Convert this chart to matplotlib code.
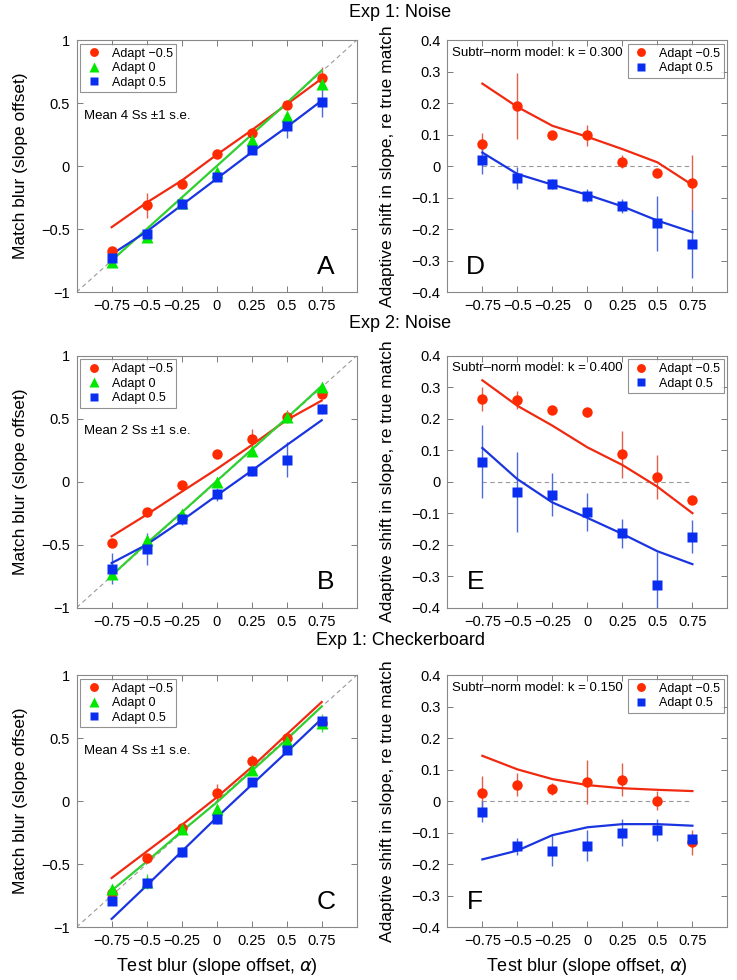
import numpy as np
import matplotlib
matplotlib.use("Agg")
import matplotlib.pyplot as plt

plt.rcParams['font.family'] = ['Liberation Sans', 'DejaVu Sans']
plt.rcParams['axes.unicode_minus'] = True

# test blur levels
x = [-0.75, -0.5, -0.25, 0, 0.25, 0.5, 0.75]
xtick_labels = ['\u22120.75', '\u22120.5', '\u22120.25', '0', '0.25', '0.5', '0.75']

# ---- Exp 1: Noise (A / D) ----
A_red = [-0.675, -0.31, -0.143, 0.10, 0.265, 0.485, 0.70]
A_red_err = [0.02, 0.10, 0.02, 0.02, 0.03, 0.02, 0.09]
A_red_fit = [-0.485, -0.29, -0.115, 0.09, 0.285, 0.49, 0.695]
A_green = [-0.76, -0.56, -0.29, -0.05, 0.21, 0.40, 0.655]
A_green_err = [0.03, 0.03, 0.02, 0.02, 0.02, 0.03, 0.05]
A_green_fit = [-0.75, -0.5, -0.25, 0.0, 0.25, 0.5, 0.76]
A_blue = [-0.73, -0.54, -0.30, -0.09, 0.13, 0.32, 0.51]
A_blue_err = [0.02, 0.02, 0.02, 0.02, 0.02, 0.10, 0.12]
A_blue_fit = [-0.70, -0.52, -0.31, -0.10, 0.11, 0.31, 0.52]

D_red = [0.07, 0.19, 0.10, 0.098, 0.014, -0.023, -0.054]
D_red_err = [0.035, 0.105, 0.01, 0.033, 0.02, 0.01, 0.09]
D_red_fit = [0.262, 0.188, 0.128, 0.093, 0.054, 0.012, -0.06]
D_blue = [0.02, -0.038, -0.057, -0.094, -0.126, -0.182, -0.247]
D_blue_err = [0.045, 0.035, 0.015, 0.02, 0.022, 0.088, 0.108]
D_blue_fit = [0.043, -0.025, -0.059, -0.091, -0.128, -0.173, -0.21]

# ---- Exp 2: Noise (B / E) ----
B_red = [-0.49, -0.244, -0.024, 0.22, 0.34, 0.517, 0.697]
B_red_err = [0.02, 0.02, 0.02, 0.02, 0.08, 0.05, 0.02]
B_red_fit = [-0.434, -0.262, -0.08, 0.10, 0.29, 0.49, 0.644]
B_green = [-0.73, -0.46, -0.257, 0.0, 0.24, 0.51, 0.75]
B_green_err = [0.04, 0.03, 0.02, 0.02, 0.02, 0.03, 0.02]
B_green_fit = [-0.745, -0.49, -0.245, 0.005, 0.255, 0.505, 0.76]
B_blue = [-0.69, -0.535, -0.297, -0.10, 0.087, 0.175, 0.577]
B_blue_err = [0.12, 0.13, 0.05, 0.05, 0.04, 0.14, 0.04]
B_blue_fit = [-0.646, -0.50, -0.31, -0.11, 0.087, 0.29, 0.488]

E_red = [0.264, 0.259, 0.229, 0.22, 0.087, 0.016, -0.057]
E_red_err = [0.038, 0.028, 0.01, 0.015, 0.074, 0.07, 0.01]
E_red_fit = [0.322, 0.241, 0.178, 0.109, 0.053, -0.016, -0.10]
E_blue = [0.064, -0.034, -0.041, -0.097, -0.164, -0.327, -0.175]
E_blue_err = [0.117, 0.127, 0.068, 0.06, 0.047, 0.103, 0.053]
E_blue_fit = [0.107, 0.008, -0.066, -0.115, -0.166, -0.221, -0.262]

# ---- Exp 1: Checkerboard (C / F) ----
C_red = [-0.73, -0.45, -0.215, 0.064, 0.318, 0.503, 0.62]
C_red_err = [0.02, 0.02, 0.03, 0.07, 0.05, 0.03, 0.03]
C_red_fit = [-0.61, -0.40, -0.19, 0.03, 0.27, 0.53, 0.787]
C_green = [-0.697, -0.64, -0.22, -0.06, 0.244, 0.477, 0.62]
C_green_err = [0.03, 0.06, 0.04, 0.03, 0.03, 0.03, 0.07]
C_green_fit = [-0.71, -0.48, -0.24, -0.01, 0.24, 0.49, 0.752]
C_blue = [-0.79, -0.65, -0.405, -0.143, 0.151, 0.41, 0.636]
C_blue_err = [0.02, 0.03, 0.04, 0.04, 0.03, 0.02, 0.02]
C_blue_fit = [-0.935, -0.67, -0.40, -0.13, 0.13, 0.39, 0.654]

F_red = [0.025, 0.052, 0.038, 0.062, 0.068, 0.002, -0.131]
F_red_err = [0.055, 0.037, 0.02, 0.07, 0.052, 0.03, 0.04]
F_red_fit = [0.144, 0.101, 0.07, 0.051, 0.041, 0.036, 0.032]
F_blue = [-0.033, -0.144, -0.157, -0.141, -0.10, -0.092, -0.12]
F_blue_err = [0.034, 0.027, 0.048, 0.048, 0.042, 0.034, 0.015]
F_blue_fit = [-0.185, -0.157, -0.108, -0.083, -0.073, -0.073, -0.078]

RED, GREEN, BLUE = '#ff2a00', '#00e800', '#0a2ef0'
RED_L, GREEN_L, BLUE_L = '#e0604a', '#55d055', '#4a6ae0'
RED_FIT, GREEN_FIT, BLUE_FIT = '#f02a10', '#30d030', '#1a35e0'

fig = plt.figure(figsize=(7.37, 9.8), dpi=100)

row_bottoms = [0.702, 0.380, 0.054]
w, h = 0.380, 0.257
left_x, right_x = 0.104, 0.607


def style_axes(ax):
    ax.tick_params(direction='in', top=True, right=True, labelsize=10.5,
                   length=4, width=0.6, color='#666666', pad=5)
    for s in ax.spines.values():
        s.set_color('#888888')
        s.set_linewidth(0.8)
    ax.set_xlim(-1, 1)
    ax.set_xticks(x)
    ax.set_xticklabels(xtick_labels)


def add_legend(ax, loc):
    leg = ax.legend(loc=loc, fontsize=9, fancybox=False, markerscale=0.85,
                    borderaxespad=0.3, handletextpad=0.6, labelspacing=0.2,
                    handlelength=1.6, borderpad=0.3)
    leg.get_frame().set_edgecolor('#777777')
    leg.get_frame().set_linewidth(0.8)


def left_panel(ax, red, red_err, red_fit, green, green_err, green_fit,
               blue, blue_err, blue_fit, letter, note):
    ax.plot([-1, 1], [-1, 1], '--', color='#999999', lw=0.8, dashes=(4, 3))
    ax.errorbar(x, red, yerr=red_err, fmt='none', ecolor=RED_L, elinewidth=1.0)
    ax.errorbar(x, green, yerr=green_err, fmt='none', ecolor=GREEN_L, elinewidth=1.0)
    ax.errorbar(x, blue, yerr=blue_err, fmt='none', ecolor=BLUE_L, elinewidth=1.0)
    ax.plot(x, red_fit, color=RED_FIT, lw=1.6)
    ax.plot(x, green_fit, color=GREEN_FIT, lw=1.6)
    ax.plot(x, blue_fit, color=BLUE_FIT, lw=1.6)
    ax.plot(x, red, 'o', color=RED, ms=7.5, mec='none', label='Adapt \u22120.5')
    ax.plot(x, green, '^', color=GREEN, ms=8, mec='none', label='Adapt 0')
    ax.plot(x, blue, 's', color=BLUE, ms=6.5, mec='none', label='Adapt 0.5')
    ax.set_ylim(-1, 1)
    ax.set_yticks([-1, -0.5, 0, 0.5, 1])
    ax.set_yticklabels(['\u22121', '\u22120.5', '0', '0.5', '1'])
    style_axes(ax)
    add_legend(ax, 'upper left')
    ax.text(0.025, 0.70, note, transform=ax.transAxes, fontsize=9.5, va='center')
    ax.text(0.89, 0.10, letter, transform=ax.transAxes, fontsize=19,
            ha='center', va='center')
    ax.set_ylabel('Match blur (slope offset)', fontsize=12.5, labelpad=9)


def right_panel(ax, red, red_err, red_fit, blue, blue_err, blue_fit,
                letter, note):
    ax.plot([-0.75, 0.75], [0, 0], color='#999999', lw=0.8, dashes=(4, 3))
    ax.errorbar(x, red, yerr=red_err, fmt='none', ecolor=RED_L, elinewidth=1.0)
    ax.errorbar(x, blue, yerr=blue_err, fmt='none', ecolor=BLUE_L, elinewidth=1.0)
    ax.plot(x, red_fit, color=RED_FIT, lw=1.6)
    ax.plot(x, blue_fit, color=BLUE_FIT, lw=1.6)
    ax.plot(x, red, 'o', color=RED, ms=7.5, mec='none', label='Adapt \u22120.5')
    ax.plot(x, blue, 's', color=BLUE, ms=6.5, mec='none', label='Adapt 0.5')
    ax.set_ylim(-0.4, 0.4)
    yt = np.round(np.arange(-0.4, 0.41, 0.1), 1)
    ax.set_yticks(yt)
    ax.set_yticklabels([('\u2212' if v < 0 else '') + ('%g' % abs(v)) for v in yt])
    style_axes(ax)
    add_legend(ax, 'upper right')
    ax.text(0.015, 0.95, note, transform=ax.transAxes, fontsize=9.5, va='center')
    ax.text(0.10, 0.10, letter, transform=ax.transAxes, fontsize=19,
            ha='center', va='center')
    ax.set_ylabel('Adaptive shift in slope, re true match', fontsize=12.5,
                  labelpad=12)


axA = fig.add_axes([left_x, row_bottoms[0], w, h])
left_panel(axA, A_red, A_red_err, A_red_fit, A_green, A_green_err, A_green_fit,
           A_blue, A_blue_err, A_blue_fit, 'A', 'Mean 4 Ss \u00b11 s.e.')
axD = fig.add_axes([right_x, row_bottoms[0], w, h])
right_panel(axD, D_red, D_red_err, D_red_fit, D_blue, D_blue_err, D_blue_fit,
            'D', 'Subtr\u2013norm model: k = 0.300')

axB = fig.add_axes([left_x, row_bottoms[1], w, h])
left_panel(axB, B_red, B_red_err, B_red_fit, B_green, B_green_err, B_green_fit,
           B_blue, B_blue_err, B_blue_fit, 'B', 'Mean 2 Ss \u00b11 s.e.')
axE = fig.add_axes([right_x, row_bottoms[1], w, h])
right_panel(axE, E_red, E_red_err, E_red_fit, E_blue, E_blue_err, E_blue_fit,
            'E', 'Subtr\u2013norm model: k = 0.400')

axC = fig.add_axes([left_x, row_bottoms[2], w, h])
left_panel(axC, C_red, C_red_err, C_red_fit, C_green, C_green_err, C_green_fit,
           C_blue, C_blue_err, C_blue_fit, 'C', 'Mean 4 Ss \u00b11 s.e.')
axF = fig.add_axes([right_x, row_bottoms[2], w, h])
right_panel(axF, F_red, F_red_err, F_red_fit, F_blue, F_blue_err, F_blue_fit,
            'F', 'Subtr\u2013norm model: k = 0.150')

axC.set_xlabel(r'Test blur (slope offset, $\alpha$)', fontsize=13, labelpad=6)
axF.set_xlabel(r'Test blur (slope offset, $\alpha$)', fontsize=13, labelpad=6)

fig.text(0.543, 0.987, 'Exp 1: Noise', fontsize=13, ha='center', va='center')
fig.text(0.543, 0.670, 'Exp 2: Noise', fontsize=13, ha='center', va='center')
fig.text(0.543, 0.346, 'Exp 1: Checkerboard', fontsize=13, ha='center', va='center')

fig.savefig('out.png', dpi=100)
